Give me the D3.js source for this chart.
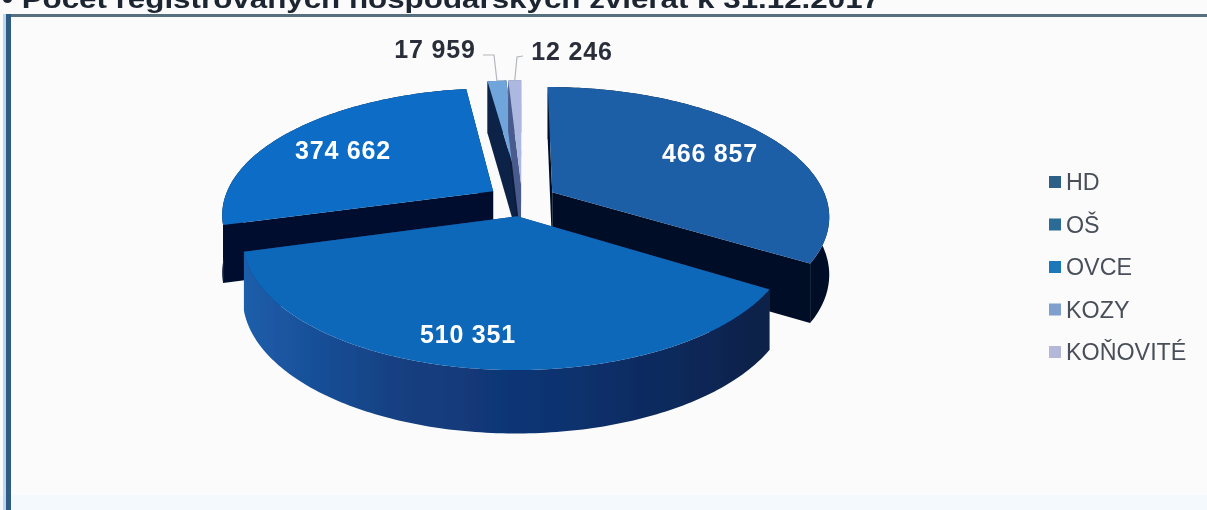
<!DOCTYPE html>
<html><head><meta charset="utf-8">
<script src="https://cdnjs.cloudflare.com/ajax/libs/d3/7.8.5/d3.min.js"></script>
<style>html,body{margin:0;padding:0;background:#fbfbfb;overflow:hidden}svg{display:block}text{font-family:"Liberation Sans",Arial,sans-serif}</style>
</head><body><svg id="c" width="1207" height="510"></svg>
<script>
const categories = ["HD","OŠ","OVCE","KOZY","KOŇOVITÉ"];
const values = [466857,510351,374662,17959,12246];
const valueLabels = ["466 857","510 351","374 662","17 959","12 246"];
const faceColors = ["#1d5ea6","#0f67ba","#0a6dc6","#6fa5dc","#adb8e0"];
const wallColors = ["#050f26","#123c7c","#060f2e","#0b2346","#4a5a8c"];
const legendColors = ["#2f5f86","#2a6c96","#1a78b8","#7f9fcc","#b4b8d8"];
const title = "• Počet registrovaných hospodárskych zvierat k 31.12.2017";

// layout
const W = 1207, H = 510, cx = 522, cy = 200, R = 272, tilt = 0.46, D = 1550, explode = 35, wallH = 57;
const radiusScale = [1.01,0.97,0.99,1.02,1.02];
const labelAnchors = [[710,153],[468,334],[343,150],[435,49],[572,51]];
const labelFill = ["#fff","#fff","#fff","#2b2f3a","#2b2f3a"];

const svg = d3.select("#c");
const defs = svg.append("defs");
defs.append("filter").attr("id","soft").attr("x","-2%").attr("y","-2%").attr("width","104%").attr("height","104%")
  .append("feGaussianBlur").attr("stdDeviation",0.55);
const grad = (id, stops) => {
  const g = defs.append("linearGradient").attr("id",id).attr("x1",0).attr("x2",1).attr("y1",0).attr("y2",0);
  stops.forEach(([o,c]) => g.append("stop").attr("offset",o).attr("stop-color",c));
};
grad("wallOS",[[0,"#1d5eaa"],[0.08,"#1a55a0"],[0.3,"#143f80"],[0.6,"#0f3270"],[0.85,"#0c2858"],[1,"#0a2047"]]);

// scales
const pie = d3.pie().sort(null).value(d=>d).startAngle(0).endAngle(2*Math.PI);
const arcs = pie(values);
const line = d3.line();

// perspective projection of a point on the ground plane, a = angle from the back, clockwise
function proj(a, r, mid, z){
  const ox = explode*Math.sin(mid), oy = explode*Math.cos(mid);
  const X = r*Math.sin(a)+ox, Y = r*Math.cos(a)+oy;
  const f = D/(D+Y);
  return [cx + X*f, cy - tilt*Y*f + (z||0)*Math.sqrt(f)];
}
function arcPts(a0,a1,r,mid,z){
  const n = Math.max(4,Math.ceil((a1-a0)*60)), out=[];
  for(let i=0;i<=n;i++) out.push(proj(a0+(a1-a0)*i/n,r,mid,z));
  return out;
}
const g = svg.append("g").attr("filter","url(#soft)");

// frame
g.append("rect").attr("x",0).attr("y",495).attr("width",W).attr("height",15).attr("fill","#f3f9fd");
g.append("rect").attr("x",7).attr("y",14).attr("width",W-7).attr("height",3).attr("fill","#55707f");
g.append("rect").attr("x",6).attr("y",14).attr("width",5).attr("height",H-14).attr("fill","#2f5c86");
g.append("rect").attr("x",3).attr("y",14).attr("width",3).attr("height",H-14).attr("fill","#bcd8ea");

g.append("text").attr("x",2).attr("y",8).attr("font-size",26).attr("font-weight",700).attr("fill","#1c2530")
  .attr("textLength",878).attr("lengthAdjust","spacingAndGlyphs").text(title);

// painter order: back slices first, the big front slice last
const order = [2,0,3,4,1];
order.forEach(i=>{
  const d = arcs[i], mid=(d.startAngle+d.endAngle)/2, r = R*radiusScale[i];
  const s = g.append("g");
  const wallFill = i===1 ? "url(#wallOS)" : wallColors[i];
  const apex = proj(0,0,mid,0), apexB = proj(0,0,mid,wallH);
  const o0 = proj(d.startAngle,r,mid,0), o0B = proj(d.startAngle,r,mid,wallH);
  const o1 = proj(d.endAngle,r,mid,0), o1B = proj(d.endAngle,r,mid,wallH);
  // side walls first, the outer wall over them
  const sideB = (i===3||i===4)? "#0a1f3e" : wallColors[i];
  s.append("path").attr("fill",wallColors[i]).attr("d",line([apex,o0,o0B,apexB])+"Z");
  s.append("path").attr("fill",sideB).attr("d",line([apex,o1,o1B,apexB])+"Z");
  s.append("path").attr("fill",wallFill)
    .attr("d",line([...arcPts(d.startAngle,d.endAngle,r,mid,0),...arcPts(d.startAngle,d.endAngle,r,mid,wallH).reverse()])+"Z");
  // top face
  s.append("path").attr("fill",faceColors[i])
    .attr("d",line([apex,...arcPts(d.startAngle,d.endAngle,r,mid,0)])+"Z");
});

// leader lines for the small slices
const leader = (i,pts)=>g.append("path").attr("fill","none").attr("stroke","#b4b8bc").attr("stroke-width",1.2).attr("d",line(pts));
const topOf = i => { const d=arcs[i], m=(d.startAngle+d.endAngle)/2; return proj(m,R*radiusScale[i],m,0); };
leader(3,[[483,55],[494,55],topOf(3)]);
leader(4,[[523,56],[517,57],topOf(4)]);

// value labels
valueLabels.forEach((t,i)=>{
  g.append("text").attr("x",labelAnchors[i][0]).attr("y",labelAnchors[i][1]+8.5).attr("text-anchor","middle")
    .attr("font-size",25).attr("letter-spacing",0.8).attr("font-weight",700).attr("fill",labelFill[i]).text(t);
});

// legend
const legendY = d3.scalePoint().domain(categories).range([182,352]);
const lg = g.append("g").selectAll("g").data(categories).join("g")
  .attr("transform",d=>`translate(1048,${legendY(d)})`);
lg.append("rect").attr("x",1).attr("y",-6).attr("width",12).attr("height",12).attr("fill",(d,i)=>legendColors[i]);
lg.append("text").attr("x",18).attr("y",8).attr("font-size",23.3).attr("fill","#4a4f5a").text(d=>d);
</script></body></html>
